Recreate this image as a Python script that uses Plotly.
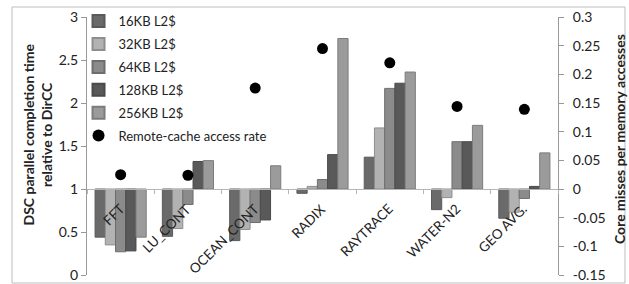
import plotly.graph_objects as go

categories = ["FFT", "LU_CONT", "OCEAN_CONT", "RADIX", "RAYTRACE", "WATER-N2", "GEO AVG."]
series_names = ["16KB L2$", "32KB L2$", "64KB L2$", "128KB L2$", "256KB L2$"]
completion = {
    "16KB L2$":  [0.44, 0.45, 0.40, 0.95, 1.37, 0.76, 0.66],
    "32KB L2$":  [0.35, 0.54, 0.53, 1.03, 1.71, 0.90, 0.73],
    "64KB L2$":  [0.27, 0.82, 0.61, 1.11, 2.17, 1.55, 0.89],
    "128KB L2$": [0.28, 1.32, 0.64, 1.40, 2.23, 1.55, 1.03],
    "256KB L2$": [0.44, 1.33, 1.27, 2.75, 2.36, 1.74, 1.42],
}
remote_rate = [0.025, 0.024, 0.176, 0.245, 0.220, 0.144, 0.139]
baseline = 1.0

left_ticks = [0, 0.5, 1, 1.5, 2, 2.5, 3]
right_ticks = [-0.15, -0.1, -0.05, 0, 0.05, 0.1, 0.15, 0.2, 0.25, 0.3]

fills = ["#6a6a6a", "#b2b2b2", "#8b8b8b", "#595959", "#9b9b9b"]
outlines = ["#5a5a5a", "#8e8e8e", "#6e6e6e", "#4a4a4a", "#7c7c7c"]

FONT = "Lato, 'Open Sans', sans-serif"

fig = go.Figure()
for i, name in enumerate(series_names):
    vals = completion[name]
    fig.add_trace(go.Bar(
        x=categories, y=[v - baseline for v in vals], base=baseline,
        name=name, legendgroup=name,
        marker=dict(color=fills[i], line=dict(color=outlines[i], width=1)),
        yaxis="y",
    ))
fig.add_trace(go.Scatter(
    x=categories, y=remote_rate, mode="markers", name="Remote-cache access rate",
    legendgroup="rate",
    marker=dict(color="black", size=11), yaxis="y2",
))

annotations = []
for c in categories:
    annotations.append(dict(
        x=c, y=baseline, xref="x", yref="y", text=c, showarrow=False,
        textangle=-45, xanchor="right", yanchor="top", xshift=9, yshift=-9,
        font=dict(family=FONT, size=13.5, color="#222"),
    ))
annotations.append(dict(
    x=(36.5 - 87) / 471, y=(275 - 135) / 258, xref="paper", yref="paper",
    text="<b>DSC parallel completion time<br>relative to DirCC</b>",
    showarrow=False, textangle=-90, xanchor="center", yanchor="middle",
    font=dict(family=FONT, size=14, color="#222"),
))
annotations.append(dict(
    x=(619 - 87) / 471, y=(275 - 139) / 258, xref="paper", yref="paper",
    text="<b>Core misses per memory accesses</b>",
    showarrow=False, textangle=-90, xanchor="center", yanchor="middle",
    font=dict(family=FONT, size=14, color="#222"),
))

shapes = [dict(
    type="rect", xref="paper", yref="paper",
    x0=(12 - 87) / 471, x1=(625 - 87) / 471, y0=(275 - 283) / 258, y1=(275 - 7) / 258,
    line=dict(color="#bdbdbd", width=1), fillcolor="rgba(0,0,0,0)", layer="below",
)]

fig.update_layout(
    width=629, height=284,
    margin=dict(l=87, r=71, t=17, b=9, autoexpand=False),
    paper_bgcolor="white", plot_bgcolor="white",
    barmode="group", bargap=0.24, bargroupgap=0,
    showlegend=True,
    legend=dict(
        x=-0.018, y=1.042, xanchor="left", yanchor="top",
        bgcolor="rgba(0,0,0,0)", font=dict(family=FONT, size=13, color="#222"),
        tracegroupgap=3, itemwidth=30, traceorder="grouped",
        itemsizing="constant", maxheight=260,
    ),
    xaxis=dict(
        type="category", anchor="free", position=1/3,
        showline=True, linecolor="#b5b5b5", linewidth=1,
        ticks="outside", tickson="boundaries", ticklen=4, tickcolor="#b5b5b5",
        showticklabels=False, showgrid=False, zeroline=False,
        range=[-0.5, len(categories) - 0.5],
    ),
    yaxis=dict(
        range=[0, 3], tickvals=left_ticks, ticktext=[f"{t:g}" for t in left_ticks],
        showline=True, linecolor="#999", linewidth=1, ticks="outside", ticklen=5,
        tickcolor="#999", showgrid=False, zeroline=False,
        tickfont=dict(family=FONT, size=14, color="#222"),
    ),
    yaxis2=dict(
        range=[-0.15, 0.3], overlaying="y", side="right",
        tickvals=right_ticks, ticktext=[f"{t:g}" for t in right_ticks],
        showline=True, linecolor="#999", linewidth=1, ticks="outside", ticklen=5,
        tickcolor="#999", showgrid=False, zeroline=False, ticklabelstandoff=6,
        tickfont=dict(family=FONT, size=14, color="#222"),
    ),
    annotations=annotations, shapes=shapes,
)

fig.write_html(
    "out.html",
    config={"displayModeBar": False},
    post_script="document.body.style.margin='0';document.body.style.overflow='hidden';",
)
